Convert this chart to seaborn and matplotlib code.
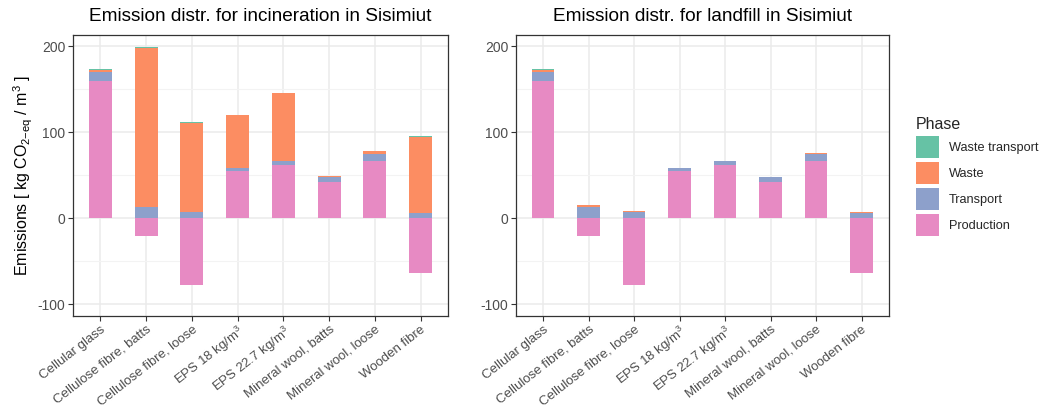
import numpy as np
import seaborn as sns
import matplotlib.pyplot as plt
from matplotlib.patches import Patch
from matplotlib.ticker import MultipleLocator

materials = ['Cellular glass', 'Cellulose fibre, batts', 'Cellulose fibre, loose',
             'EPS 18 kg/m$^3$', 'EPS 22.7 kg/m$^3$', 'Mineral wool, batts',
             'Mineral wool, loose', 'Wooden fibre']
phases = ['Production', 'Transport', 'Waste', 'Waste transport']

# incineration scenario
inc_production = [159.0, -20.6, -76.9, 55.1, 62.1, 42.3, 66.8, -63.7]
inc_transport = [10.7, 13.6, 7.8, 2.8, 4.3, 5.9, 8.5, 6.2]
inc_waste = [2.3, 183.7, 103.3, 62.0, 78.8, 0.7, 2.4, 88.6]
inc_waste_transport = [1.0, 1.5, 0.5, 0.4, 0.3, 0.2, 0.6, 1.0]

# landfill scenario
lf_production = [159.0, -20.6, -76.9, 55.1, 62.1, 42.3, 66.8, -63.7]
lf_transport = [10.7, 13.6, 7.8, 2.8, 4.3, 5.9, 8.5, 6.2]
lf_waste = [2.3, 1.5, 0.5, 0.5, 0.3, 0.2, 0.7, 1.0]
lf_waste_transport = [1.0, 0.2, 0.2, 0.1, 0.1, 0.1, 0.3, 0.2]

sns.set_theme(style='whitegrid')
plt.rcParams['font.family'] = ['Liberation Sans', 'DejaVu Sans']
plt.rcParams['mathtext.fontset'] = 'custom'
plt.rcParams['mathtext.rm'] = 'Liberation Sans'
plt.rcParams['mathtext.it'] = 'Liberation Sans'
plt.rcParams['axes.unicode_minus'] = False

set2 = sns.color_palette('Set2')
colors = {'Waste transport': set2[0], 'Waste': set2[1],
          'Transport': set2[2], 'Production': set2[3]}

TEXT = '#4d4d4d'
GRID = '#ebebeb'


def stacked(ax, layers, title):
    x = np.arange(len(materials))
    pos = np.zeros(len(materials))
    neg = np.zeros(len(materials))
    for name, vals in zip(phases, layers):
        vals = np.array(vals)
        bottom = np.where(vals >= 0, pos, neg)
        ax.bar(x, vals, 0.5, bottom=bottom, color=colors[name],
               edgecolor='none', zorder=3)
        pos = pos + np.clip(vals, 0, None)
        neg = neg + np.clip(vals, None, 0)

    ax.set_xlim(-0.6, len(materials) - 0.4)
    ax.set_ylim(-113, 213)
    ax.yaxis.set_major_locator(MultipleLocator(100))
    ax.yaxis.set_minor_locator(MultipleLocator(50))
    ax.set_xticks(x)
    ax.set_xticklabels(materials, rotation=38, ha='right',
                       rotation_mode='anchor', fontsize=9.5, color=TEXT)
    ax.tick_params(axis='y', labelsize=10, labelcolor=TEXT)
    ax.tick_params(which='major', length=3.5, width=0.8, color='#333333',
                   bottom=True, left=True, direction='out', pad=2)
    ax.tick_params(which='minor', length=0, left=False)
    ax.grid(True, which='major', color=GRID, lw=1.1, zorder=0)
    ax.grid(True, which='minor', axis='y', color='#f3f3f3', lw=0.8, zorder=0)
    for s in ax.spines.values():
        s.set_color('#333333')
        s.set_linewidth(0.9)
    ax.set_title(title, fontsize=13.7, color='black', pad=10)
    ax.set_xlabel('')


fig = plt.figure(figsize=(10.42, 4.11), dpi=100)
ax1 = fig.add_axes([0.070, 0.232, 0.360, 0.683])
ax2 = fig.add_axes([0.495, 0.232, 0.358, 0.683])

stacked(ax1, [inc_production, inc_transport, inc_waste, inc_waste_transport],
        'Emission distr. for incineration in Sisimiut')
stacked(ax2, [lf_production, lf_transport, lf_waste, lf_waste_transport],
        'Emission distr. for landfill in Sisimiut')
ax1.set_ylabel('Emissions [ kg CO$_{2\\mathrm{-eq}}$ / m$^3$ ]', fontsize=11.5,
               color='black', labelpad=4)
ax1.yaxis.set_label_coords(-0.10, 0.5)

handles = [Patch(facecolor=colors[p], edgecolor='none') for p in reversed(phases)]
fig.legend(handles, list(reversed(phases)), title='Phase',
           loc='upper left', bbox_to_anchor=(0.874, 0.728), frameon=False,
           fontsize=9.2, title_fontsize=11.5, handlelength=1.8, handleheight=2.3,
           handletextpad=0.8, labelspacing=0.3, alignment='left',
           borderaxespad=0.0)

fig.savefig('out.png', dpi=100)
